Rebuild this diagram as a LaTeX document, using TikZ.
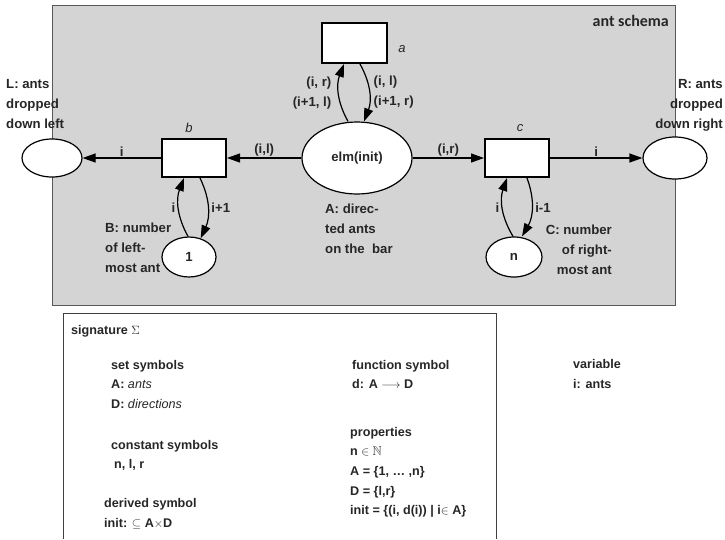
\documentclass[tikz,border=0pt]{standalone}
\usepackage{amsmath}
\usepackage{amssymb}
\usepackage{fontspec}
\setmainfont{Liberation Sans}
\newfontfamily\schemafont{Carlito}
\usetikzlibrary{arrows.meta,positioning,shapes.geometric}
\newcommand{\labfont}{\fontsize{13.2}{20}\selectfont\bfseries}
\newcommand{\sigfont}{\fontsize{12.6}{20}\selectfont\bfseries}
\tikzset{
  schemabox/.style={draw=black!65, fill=black!17, line width=0.8pt},
  placenode/.style={ellipse, draw=black, fill=white, line width=1.2pt, inner sep=0pt,
                    font=\labfont, text=black!85},
  transbox/.style={rectangle, draw=black, fill=white, line width=2pt,
                   minimum width=64pt, minimum height=38pt},
  petriarr/.style={-{Triangle[length=13pt,width=9pt]}, draw=black, line width=1.2pt},
  petrilab/.style={font=\labfont, text=black!85, align=left, inner sep=1pt},
  translab/.style={font=\fontsize{13}{20}\selectfont\itshape, text=black!85, inner sep=0pt},
  sigtext/.style={font=\sigfont, text=black!85, anchor=base west, inner sep=0pt},
}

\begin{document}
\begin{tikzpicture}[x=1pt,y=-1pt]
\useasboundingbox (0,0) rectangle (725,539);
% schema frame
\draw[schemabox] (52,5) rectangle (675,305);
\node[anchor=base east, inner sep=0pt, text=black!85,
  font=\schemafont\fontsize{16}{18}\selectfont\bfseries] (schemalab) at (669,26) {ant schema};
% transitions and places
\node[transbox, minimum width=65pt, minimum height=40pt] (a) at (354,43) {};
\node[translab] (alab) at (402,49) {a};
\node[placenode, minimum width=110pt, minimum height=72pt] (elm) at (357,158) {elm(init)};
\node[transbox] (b) at (194,158) {};
\node[translab] (blab) at (189,128) {b};
\node[transbox] (c) at (517,158) {};
\node[translab] (clab) at (520,128) {c};
\node[placenode, minimum width=60pt, minimum height=38pt] (L) at (52,158) {};
\node[placenode, minimum width=64pt, minimum height=42pt] (R) at (675,158) {};
\node[placenode, minimum width=54pt, minimum height=40pt] (B) at (189,257) {1};
\node[placenode, minimum width=56pt, minimum height=40pt] (C) at (514,257) {n};
% place descriptions
\node[petrilab, anchor=north west, inner sep=0pt] (Llab) at (6,79) {L: ants\\dropped\\down left};
\node[petrilab, anchor=north east, align=right, inner sep=0pt] (Rlab) at (723,79) {R: ants\\dropped\\down right};
\node[petrilab, anchor=north west, inner sep=0pt] (Blab) at (105,223) {B: number\\of left-\\most ant};
\node[petrilab, anchor=north east, align=right, inner sep=0pt] (Clab) at (612,225) {C: number\\of right-\\most ant};
\node[petrilab, anchor=north west, inner sep=0pt] (Alab) at (325,204) {A: direc-\\ted ants\\on the~ bar};
% arcs
\draw[petriarr] (elm) -- node[petrilab, above]{(i,l)} (b);
\draw[petriarr] (b) -- node[petrilab, above]{i} (L);
\draw[petriarr] (elm) -- node[petrilab, above]{(i,r)} (c);
\draw[petriarr] (c) -- node[petrilab, above]{i} (R);
\draw[petriarr] ([xshift=-9pt]elm.north) to[bend left=25]
  node[petrilab, left=6pt, align=right]{(i, r)\\(i+1, l)} ([xshift=-10pt]a.south);
\draw[petriarr] ([xshift=6pt]a.south) to[bend left=25]
  node[petrilab, right=3pt]{(i, l)\\(i+1, r)} ([xshift=7pt]elm.north);
\draw[petriarr] ([xshift=-1pt]B.north) to[bend left=25]
  node[petrilab, left=2pt]{i} ([xshift=-10pt]b.south);
\draw[petriarr] ([xshift=6pt]b.south) to[bend left=25]
  node[petrilab, right=2pt]{i+1} (B.58);
\draw[petriarr] ([xshift=-1pt]C.north) to[bend left=25]
  node[petrilab, left=2pt]{i} ([xshift=-10pt]c.south);
\draw[petriarr] ([xshift=10pt]c.south) to[bend left=25]
  node[petrilab, right=2pt]{i-1} ([xshift=8pt]C.north);
% signature
\draw[line width=0.8pt, draw=black!75] (63,539) |- (496,313) -- (496,539);
\node[sigtext] (sig) at (71,334) {signature $\Sigma$};
\node[sigtext] (setsym) at (111,369) {set symbols};
\node[sigtext] (setA) at (111,388) {A: \textmd{\textit{ants}}};
\node[sigtext] (setD) at (111,408) {D: \textmd{\textit{directions}}};
\node[sigtext] (constsym) at (111,449) {constant symbols};
\node[sigtext] (constval) at (114,468) {n, l, r};
\node[sigtext] (dersym) at (104,507) {derived symbol};
\node[sigtext] (derval) at (104,527) {init: $\subseteq$ A$\times$D};
\node[sigtext] (funsym) at (352,369) {function symbol};
\node[sigtext] (funval) at (352,388) {d: A $\longrightarrow$ D};
\node[sigtext] (props) at (350,436) {properties};
\node[sigtext] (propn) at (350,455) {n $\in\mathbb{N}$};
\node[sigtext] (propA) at (350,475) {A = \{1, … ,n\}};
\node[sigtext] (propD) at (350,495) {D = \{l,r\}};
\node[sigtext] (propinit) at (350,514) {init = \{(i, d(i)) | i$\in$ A\}};
\node[sigtext] (varsym) at (573,368) {variable};
\node[sigtext] (varval) at (573,388) {i: ants};
\end{tikzpicture}
\end{document}
